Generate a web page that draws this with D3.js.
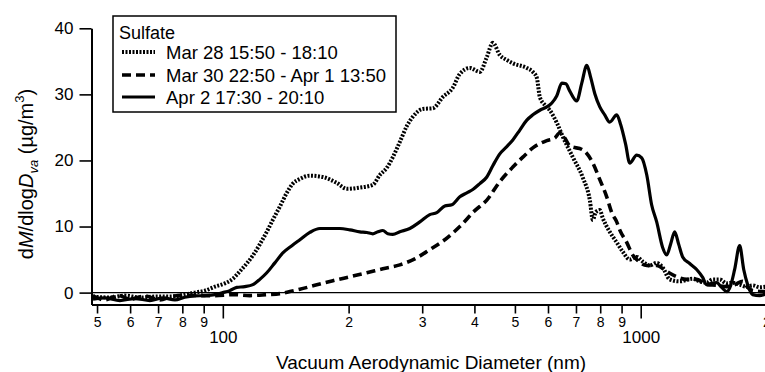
<!DOCTYPE html>
<html>
<head>
<meta charset="utf-8">
<script src="https://cdn.jsdelivr.net/npm/d3@7"></script>
<style>
body { margin: 0; background: #fff; }
text { font-family: "Liberation Sans", Arial, sans-serif; fill: #000; }
</style>
</head>
<body>
<script>
// 粒徑 (nm) 與 dM/dlogDva (µg/m3)
var sizeMar28 = [48.9, 53.7, 58.3, 63.3, 68.7, 74.7, 81.1, 85.7, 90.6, 95.7, 101.1, 105.7, 109.8, 114.1, 118.0, 122.6, 127.4, 131.7, 136.9, 142.3, 147.1, 152.9, 161.5, 173.5, 187.4, 198.1, 212.7, 228.5, 237.5, 246.9, 255.2, 265.2, 275.6, 284.9, 301.0, 318.0, 336.1, 355.1, 369.1, 390.0, 412.1, 428.3, 442.7, 460.1, 478.2, 494.3, 533.9, 551.9, 564.2, 573.6, 589.6, 606.1, 629.9, 651.0, 687.9, 726.9, 755.5, 768.1, 780.8, 798.2, 811.1, 843.0, 876.2, 905.6, 941.2, 978.2, 1011, 1051, 1092, 1129, 1173, 1240, 1332, 1384, 1438, 1487, 1545, 1606, 1660, 1725, 1793, 1853, 1926, 2002];
var massMar28 = [-0.6, -0.75, -0.45, -0.75, -0.6, -0.6, -0.3, 0, 0.3, 0.9, 1.4, 2.1, 3.2, 4.4, 5.6, 7.3, 9.2, 11.0, 13.0, 15.1, 16.5, 17.2, 17.7, 17.5, 16.6, 15.7, 15.9, 16.3, 17.8, 18.9, 20.5, 22.8, 25.2, 26.6, 27.8, 27.9, 29.6, 31.0, 33.1, 34.0, 33.4, 35.65, 37.8, 35.95, 35.2, 34.7, 34.0, 33.4, 32.5, 29.6, 28.4, 27.6, 25.7, 23.6, 20.5, 17.4, 14.0, 11.0, 12.2, 12.5, 11.3, 9.2, 7.6, 6.2, 5.0, 5.4, 4.7, 4.1, 4.5, 3.8, 2.0, 1.7, 2.1, 1.7, 1.5, 2.0, 2.0, 1.4, 1.5, 1.2, 0.9, 1.1, 0.8, 0.9];

var sizeMar30 = [48.9, 52.2, 56.1, 59.9, 65.1, 70.7, 75.5, 81.1, 88.1, 95.7, 105.7, 116.0, 127.4, 136.9, 144.7, 152.9, 166.0, 183.4, 201.4, 221.1, 241.5, 265.2, 288.0, 312.8, 339.8, 369.1, 400.9, 428.3, 460.1, 494.3, 522.3, 551.9, 596.1, 623.0, 640.4, 658.3, 676.6, 726.9, 768.1, 798.2, 829.2, 852.4, 876.2, 890.8, 925.8, 956.9, 978.2, 1034, 1092, 1154, 1219, 1288, 1361, 1438, 1520, 1606, 1678, 1754, 1803, 1853, 1958, 2002];
var massMar30 = [-0.5, -1.1, -0.4, -1.0, -0.5, -1.1, -0.6, -0.4, -0.45, -0.45, -0.3, -0.45, -0.3, -0.15, 0.15, 0.5, 1.1, 1.8, 2.4, 3.0, 3.6, 4.2, 5.1, 6.5, 8.0, 10.0, 12.4, 14.0, 16.8, 19.0, 20.5, 21.9, 23.0, 23.4, 24.2, 23.4, 22.2, 21.6, 19.6, 17.1, 14.5, 12.1, 10.7, 9.5, 7.6, 5.7, 5.0, 4.1, 4.1, 3.2, 2.4, 2.0, 2.0, 1.2, 1.1, 0.9, 1.2, 1.7, 0.8, 0.3, 0.15, 0.15];

var sizeApr2 = [48.9, 52.2, 56.7, 61.6, 66.9, 71.9, 76.8, 81.1, 85.7, 90.6, 95.7, 100, 103.9, 108.0, 112.9, 118.0, 122.6, 127.4, 133.2, 139.2, 146.3, 152.9, 161.5, 170.7, 180.3, 190.6, 201.4, 212.7, 221.1, 228.5, 234.9, 241.5, 248.2, 255.2, 265.2, 280.2, 296.1, 312.8, 325.1, 339.8, 353.2, 369.1, 383.6, 396.5, 412.1, 428.3, 442.7, 460.1, 478.2, 494.3, 513.7, 533.9, 551.9, 573.6, 596.1, 612.8, 629.9, 647.5, 661.9, 676.6, 703.0, 722.7, 743.1, 759.6, 776.6, 798.2, 820.1, 843.0, 876.2, 895.7, 920.7, 941.2, 978.2, 1005.5, 1034, 1062, 1092, 1129, 1154, 1180, 1206, 1233, 1260, 1310, 1361, 1407, 1438, 1479, 1520, 1562, 1606, 1642, 1678, 1725, 1764, 1803, 1853, 1926, 2002];
var massApr2 = [-1.0, -0.8, -1.2, -0.9, -1.2, -0.8, -1.1, -0.7, -0.5, -0.45, -0.3, 0, 0.3, 0.8, 0.9, 1.2, 2.0, 3.0, 4.5, 6.0, 7.1, 8.0, 9.1, 9.7, 9.7, 9.7, 9.5, 9.2, 9.1, 8.9, 9.2, 9.4, 8.9, 8.8, 9.2, 9.7, 10.7, 11.8, 12.1, 13.1, 13.3, 14.5, 15.1, 15.6, 16.5, 17.5, 19.2, 21.0, 22.1, 23.1, 24.6, 26.1, 26.9, 27.6, 28.1, 28.7, 29.8, 31.7, 31.6, 30.5, 29.0, 31.7, 34.4, 32.5, 30.1, 28.1, 26.9, 25.8, 26.9, 25.4, 22.4, 19.6, 20.8, 20.4, 17.8, 13.3, 10.7, 6.8, 5.7, 7.4, 9.2, 7.3, 5.4, 4.4, 3.5, 2.3, 1.2, 1.4, 1.5, 0.8, 0.15, 1.1, 3.5, 7.1, 3.5, 1.2, -0.3, -0.45, -0.15];

var seriesNames = ["Mar 28 15:50 - 18:10", "Mar 30 22:50 - Apr 1 13:50", "Apr 2 17:30 - 20:10"];
var legendTitle = "Sulfate";
var yTicks = [0, 10, 20, 30, 40];
var xMajorTicks = [100, 1000];
var xMinorTicks = [50, 60, 70, 80, 90, 200, 300, 400, 500, 600, 700, 800, 900, 2000];

var width = 765, height = 372;

var svg = d3.select("body").append("svg")
    .attr("width", width)
    .attr("height", height);

// 座標
var x = d3.scaleLog().domain([48.5, 2000]).range([91.5, 766.5]);
var y = d3.scaleLinear().domain([-1.8, 40]).range([304.5, 28.3]);

// 零線
svg.append("line")
    .attr("x1", x(48.5)).attr("x2", width)
    .attr("y1", y(0)).attr("y2", y(0))
    .attr("stroke", "#000").attr("stroke-width", 1.2);

// 曲線
var line = d3.line()
    .x(function(d) { return x(d[0]); })
    .y(function(d) { return y(d[1]); })
    .curve(d3.curveMonotoneX);

var styles = [
    {w: 4, dash: "2,1.5"},
    {w: 3.6, dash: "9,5"},
    {w: 3.2, dash: null}
];
var sets = [
    d3.zip(sizeMar28, massMar28),
    d3.zip(sizeMar30, massMar30),
    d3.zip(sizeApr2, massApr2)
];

sets.forEach(function(data, i) {
    svg.append("path")
        .datum(data)
        .attr("d", line)
        .attr("fill", "none")
        .attr("stroke", "#000")
        .attr("stroke-width", styles[i].w)
        .attr("stroke-dasharray", styles[i].dash)
        .attr("stroke-linejoin", "round");
});

// Y軸
var yAxis = svg.append("g")
    .attr("transform", "translate(" + x(48.5) + ",0)")
    .call(d3.axisLeft(y).tickValues(yTicks).tickSize(12).tickSizeOuter(0).tickPadding(6));

// X軸: 小刻度與大刻度
var xMinor = svg.append("g")
    .attr("transform", "translate(0," + y(-1.8) + ")")
    .call(d3.axisBottom(x).tickValues(xMinorTicks).tickSize(9).tickSizeOuter(0).tickPadding(3.5)
        .tickFormat(function(d) { return String(d).charAt(0); }));

var xMajor = svg.append("g")
    .attr("transform", "translate(0," + y(-1.8) + ")")
    .call(d3.axisBottom(x).tickValues(xMajorTicks).tickSize(14).tickSizeOuter(0).tickPadding(12.5)
        .tickFormat(d3.format("d")));

svg.selectAll(".domain").attr("stroke-width", 2);
svg.selectAll(".tick line").attr("stroke-width", 1.6);
yAxis.selectAll("text").style("font-size", "17px");
xMinor.selectAll("text").style("font-size", "14px");
xMajor.selectAll("text").style("font-size", "17px");

// 軸標題
svg.append("text")
    .attr("x", 431)
    .attr("y", 369)
    .style("text-anchor", "middle")
    .style("font-size", "19px")
    .text("Vacuum Aerodynamic Diameter (nm)");

var yTitle = svg.append("text")
    .attr("transform", "translate(33,174) rotate(-90)")
    .style("text-anchor", "middle")
    .style("font-size", "20px");
yTitle.append("tspan").text("d");
yTitle.append("tspan").style("font-style", "italic").text("M");
yTitle.append("tspan").text("/dlog");
yTitle.append("tspan").style("font-style", "italic").text("D");
yTitle.append("tspan").style("font-style", "italic").style("font-size", "13px").attr("dy", 5).text("va");
yTitle.append("tspan").attr("dy", -5).text(" (µg/m");
yTitle.append("tspan").style("font-size", "13px").attr("dy", -9).text("3");
yTitle.append("tspan").attr("dy", 9).text(")");

// 圖例
var legend = svg.append("g");
legend.append("rect")
    .attr("x", 113).attr("y", 16)
    .attr("width", 283).attr("height", 96)
    .attr("fill", "#fff")
    .attr("stroke", "#000")
    .attr("stroke-width", 1.5);
legend.append("text")
    .attr("x", 119).attr("y", 39)
    .style("font-size", "18px")
    .text(legendTitle);

var rowY = [59, 82, 104];
seriesNames.forEach(function(name, i) {
    legend.append("line")
        .attr("x1", 122).attr("x2", 155)
        .attr("y1", rowY[i] - 7).attr("y2", rowY[i] - 7)
        .attr("stroke", "#000")
        .attr("stroke-width", styles[i].w)
        .attr("stroke-dasharray", styles[i].dash);
    legend.append("text")
        .attr("x", 166).attr("y", rowY[i])
        .style("font-size", "18.5px")
        .text(name);
});
</script>
</body>
</html>
